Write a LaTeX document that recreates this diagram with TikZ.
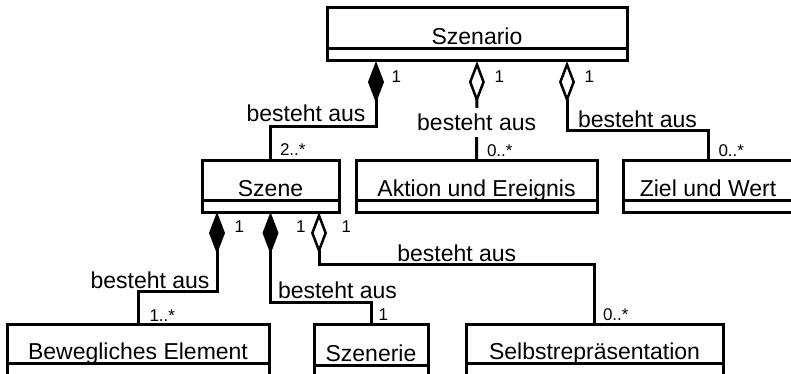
\documentclass[tikz,border=0pt]{standalone}
\usepackage{fontspec}
\setmainfont{Liberation Sans}
\usetikzlibrary{positioning,arrows.meta}
\newcommand{\klassenschrift}{\fontsize{23}{27}\selectfont}
\newcommand{\multschrift}{\fontsize{17}{20}\selectfont}

\begin{document}
\begin{tikzpicture}[x=1pt,y=-1pt,line width=3pt,
  kopf/.style={draw,anchor=north west,inner sep=0pt,outer sep=0pt,minimum height=40pt,text height=36pt,text depth=4pt,font=\klassenschrift},
  fuss/.style={draw,inner sep=0pt,outer sep=0pt,minimum height=12pt},
  rolle/.style={inner sep=0pt,font=\klassenschrift},
  mult/.style={inner sep=0pt,font=\multschrift},
  komp/.style={-{Diamond[length=42pt,width=16pt]}},
  aggr/.style={-{Diamond[open,length=42pt,width=16pt,line width=2.5pt]}}]
  \useasboundingbox (0,0) rectangle (791,374);
  \clip (0,0) rectangle (791,374);
  \node[kopf,minimum width=300pt,minimum height=41pt,text height=37pt] (szenario) at (327,8) {Szenario};
  \node[fuss,minimum width=300pt,below=0pt of szenario] (szenario-u) {};
  \node[kopf,minimum width=137pt] (szene) at (202,160) {Szene};
  \node[fuss,minimum width=137pt,below=0pt of szene] (szene-u) {};
  \node[kopf,minimum width=241pt] (aktion) at (356,160) {Aktion und Ereignis};
  \node[fuss,minimum width=241pt,below=0pt of aktion] (aktion-u) {};
  \node[kopf,minimum width=170pt] (ziel) at (623,160) {Ziel und Wert};
  \node[fuss,minimum width=170pt,below=0pt of ziel] (ziel-u) {};
  \node[kopf,minimum width=262pt,minimum height=39pt,text height=35pt] (beweg) at (7,324) {Bewegliches Element};
  \node[fuss,minimum width=262pt,below=0pt of beweg] (beweg-u) {};
  \node[kopf,minimum width=114pt,minimum height=41pt,text height=37pt] (szenerie) at (314,324) {Szenerie};
  \node[fuss,minimum width=114pt,below=0pt of szenerie] (szenerie-u) {};
  \node[kopf,minimum width=257pt,minimum height=39pt,text height=35pt] (selbst) at (466,324) {Selbstrepräsentation};
  \node[fuss,minimum width=257pt,below=0pt of selbst] (selbst-u) {};

  \draw[komp] (szene.north) -- node[mult,pos=0,anchor=base west,xshift=8pt,yshift=4pt] (m1) {2..*} ++(0,-33)
    -| node[rolle,pos=.5,anchor=base east,xshift=-9pt,yshift=5pt] (r1) {besteht aus}
       node[mult,pos=1,anchor=base west,xshift=14pt,yshift=-22pt] (m2) {1} ([xshift=49pt]szenario-u.south west);
  \draw[aggr] (aktion.north) -- node[mult,pos=0,anchor=base west,xshift=9pt,yshift=3pt] (m3) {0..*}
       node[rolle,pos=.3,anchor=base,fill=white,inner xsep=2pt,inner ysep=6pt] (r2) {besteht aus}
       node[mult,pos=1,anchor=base west,xshift=16pt,yshift=-22pt] (m4) {1} (szenario-u.south);
  \draw[aggr] (ziel.north) -- node[mult,pos=0,anchor=base west,xshift=9pt,yshift=3pt] (m5) {0..*} ++(0,-29)
    -| node[rolle,pos=.25,anchor=base,yshift=3pt] (r3) {besteht aus}
       node[mult,pos=1,anchor=base west,xshift=16pt,yshift=-22pt] (m6) {1} ([xshift=240pt]szenario-u.south west);

  \draw[komp] (beweg.north) -- node[mult,pos=0,anchor=base west,xshift=10pt,yshift=3pt] (m7) {1..*} ++(0,-33)
    -| node[rolle,pos=.5,anchor=base east,xshift=-6pt,yshift=3pt] (r4) {besteht aus}
       node[mult,pos=1,anchor=base west,xshift=16pt,yshift=-20pt] (m8) {1} ([xshift=15pt]szene-u.south west);
  \draw[komp] (szenerie.north) -- node[mult,pos=0,anchor=base west,xshift=6pt,yshift=4pt] (m9) {1} ++(0,-22)
    -| node[rolle,pos=.5,anchor=base west,xshift=6pt,yshift=4pt] (r5) {besteht aus}
       node[mult,pos=1,anchor=base west,xshift=24pt,yshift=-20pt] (m10) {1} (szene-u.south);
  \draw[aggr] (selbst.north) -- node[mult,pos=0,anchor=base west,xshift=7pt,yshift=4pt] (m11) {0..*} ++(0,-60)
    -| node[rolle,pos=.25,anchor=base,yshift=3pt] (r6) {besteht aus}
       node[mult,pos=1,anchor=base west,xshift=21pt,yshift=-20pt] (m12) {1} ([xshift=117pt]szene-u.south west);
\end{tikzpicture}
\end{document}
